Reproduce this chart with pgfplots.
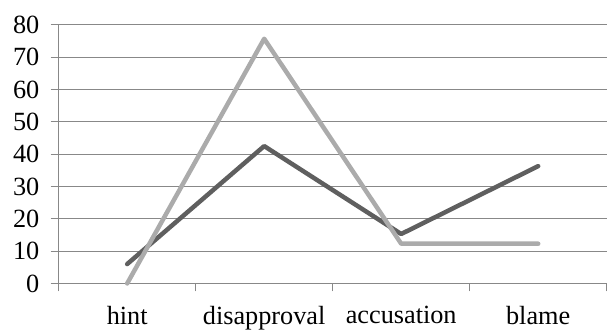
\documentclass[border=0pt]{standalone}
\usepackage{fontspec}
\setmainfont{Liberation Serif}
\usepackage{pgfplots}
\pgfplotsset{compat=1.18}
\usetikzlibrary{calc}
\definecolor{gridc}{HTML}{888888}
\definecolor{darkl}{HTML}{5F5F5F}
\definecolor{lightl}{HTML}{ABABAB}
\begin{document}
\begin{tikzpicture}
\begin{axis}[
  scale only axis,
  width=551bp, height=260bp,
  xmin=-0.5, xmax=3.5,
  ymin=0, ymax=80,
  ytick={0,10,...,80},
  xtick={-0.5,0.5,1.5,2.5,3.5},
  xticklabels={},
  extra x ticks={0,1,2,3},
  extra x tick labels={hint,disapproval,accusation,blame},
  extra x tick style={tick style={draw=none}, grid=none},
  axis x line*=bottom, axis y line*=left,
  axis line style={gridc, line width=1.2bp, -},
  tick style={gridc, line width=1.2bp},
  tick align=outside,
  major tick length=8bp,
  ymajorgrids,
  grid style={gridc, line width=1.2bp},
  /pgf/number format/assume math mode=true,
  ticklabel style={font=\fontsize{26.5}{30}\selectfont, text=black},
  yticklabel style={xshift=-8bp},
  xticklabel style={yshift=-11bp},
  clip=false,
]
\addplot[darkl, line width=4.5bp, line join=round, line cap=round] coordinates {(0,6) (1,42.5) (2,15.3) (3,36.3)};
\addplot[lightl, line width=4.5bp, line join=round, line cap=round] coordinates {(0,0) (1,75.7) (2,12.3) (3,12.3)};
\end{axis}
\path (current axis.south west) ++(-59bp,-44bp) rectangle ($(current axis.north east)+(0,25bp)$);
\end{tikzpicture}
\end{document}
